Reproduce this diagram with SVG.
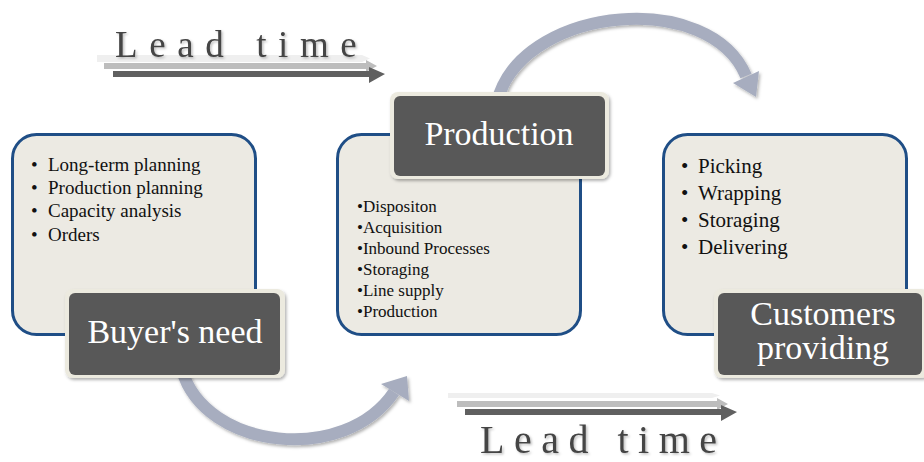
<svg xmlns="http://www.w3.org/2000/svg" width="924" height="462" viewBox="0 0 924 462">
<defs>
<filter id="sh" x="-10%" y="-10%" width="125%" height="130%">
<feDropShadow dx="1.5" dy="2" stdDeviation="1.5" flood-color="#000" flood-opacity="0.3"/>
</filter>
<filter id="tsh" x="-5%" y="-20%" width="110%" height="140%">
<feDropShadow dx="1.5" dy="1.5" stdDeviation="1" flood-color="#000" flood-opacity="0.25"/>
</filter>
<style>
.card{fill:#ECEAE3;stroke:#1F4E86;stroke-width:3}
.lblo{fill:#ECEADF}
.lbli{fill:#595959}
.lbl{font-family:"Liberation Serif","Times New Roman",serif;font-size:34px;fill:#fff;text-anchor:middle}
.b1{font-family:"Liberation Serif","Times New Roman",serif;font-size:19px;fill:#111}
.b2{font-family:"Liberation Serif","Times New Roman",serif;font-size:17px;fill:#111}
.b3{font-family:"Liberation Serif","Times New Roman",serif;font-size:21px;fill:#111}
.arc{fill:none;stroke:#A7ADBF;stroke-width:12}
.head{fill:#A7ADBF}
.lt{font-family:"Liberation Serif","Times New Roman",serif;fill:#454545}
</style>
</defs>
<rect width="924" height="462" fill="#fff"/>

<g id="connectors">
<g filter="url(#sh)">
<path class="arc" d="M182 370 C 205 450, 345 465, 394 392"/>
<polygon class="head" points="407,376 409,401 381,384"/>
<path class="arc" d="M499 95 C 530 5, 710 -10, 746 76"/>
<polygon class="head" points="733,83 759,71 756,97"/>
</g>
<g id="leadtime-top">
<path d="M97 55 H362 L370 58.5 L362 62 H97 Z" fill="#EFEFEF"/>
<path d="M104 63 H366 V60 L377 66 L366 72 V69 H104 Z" fill="#BDBDBD"/>
<path d="M113 71 H369 V67 L385 74 L369 83 V77 H113 Z" fill="#606060"/>
<text class="lt" x="115" y="57" font-size="37" letter-spacing="11.6" filter="url(#tsh)">Lead time</text>
</g>
<g id="leadtime-bottom">
<path d="M448 393 H712 L720 395.5 L712 398 H448 Z" fill="#EFEFEF"/>
<path d="M457 401 H717 V398 L728 404 L717 410 V407 H457 Z" fill="#BDBDBD"/>
<path d="M465 409 H721 V405 L737 412 L721 421 V415 H465 Z" fill="#606060"/>
<text class="lt" x="480" y="453" font-size="40" letter-spacing="9.5" filter="url(#tsh)">Lead time</text>
</g>
</g>

<g id="node-buyer">
<rect class="card" x="12.5" y="134.5" width="243" height="200" rx="24"/>
<text class="b1"><tspan x="31" y="171">•</tspan><tspan x="48" y="171">Long-term planning</tspan></text>
<text class="b1"><tspan x="31" y="194">•</tspan><tspan x="48" y="194">Production planning</tspan></text>
<text class="b1"><tspan x="31" y="217">•</tspan><tspan x="48" y="217">Capacity analysis</tspan></text>
<text class="b1"><tspan x="31" y="241">•</tspan><tspan x="48" y="241">Orders</tspan></text>
<g filter="url(#sh)">
<rect class="lblo" x="65" y="289" width="220" height="89" rx="8"/>
<rect class="lbli" x="69" y="293" width="211" height="82" rx="6"/>
</g>
<text class="lbl" x="175" y="343">Buyer's need</text>
</g>

<g id="node-production">
<rect class="card" x="337.5" y="134.5" width="243" height="200" rx="24"/>
<text class="b2" x="357" y="212">•Dispositon</text>
<text class="b2" x="357" y="233">•Acquisition</text>
<text class="b2" x="357" y="254">•Inbound Processes</text>
<text class="b2" x="357" y="275">•Storaging</text>
<text class="b2" x="357" y="296">•Line supply</text>
<text class="b2" x="357" y="317">•Production</text>
<g filter="url(#sh)">
<rect class="lblo" x="390" y="92" width="219" height="87" rx="8"/>
<rect class="lbli" x="394" y="96" width="211" height="80" rx="6"/>
</g>
<text class="lbl" x="499" y="145">Production</text>
</g>

<g id="node-customers">
<rect class="card" x="663.5" y="134.5" width="243" height="200" rx="24"/>
<text class="b3"><tspan x="681" y="173">•</tspan><tspan x="698" y="173">Picking</tspan></text>
<text class="b3"><tspan x="681" y="200">•</tspan><tspan x="698" y="200">Wrapping</tspan></text>
<text class="b3"><tspan x="681" y="227">•</tspan><tspan x="698" y="227">Storaging</tspan></text>
<text class="b3"><tspan x="681" y="254">•</tspan><tspan x="698" y="254">Delivering</tspan></text>
<g filter="url(#sh)">
<rect class="lblo" x="714" y="289" width="215" height="89" rx="8"/>
<rect class="lbli" x="718" y="293" width="204" height="82" rx="6"/>
</g>
<text class="lbl" x="823" y="325">Customers</text>
<text class="lbl" x="823" y="359">providing</text>
</g>
</svg>
